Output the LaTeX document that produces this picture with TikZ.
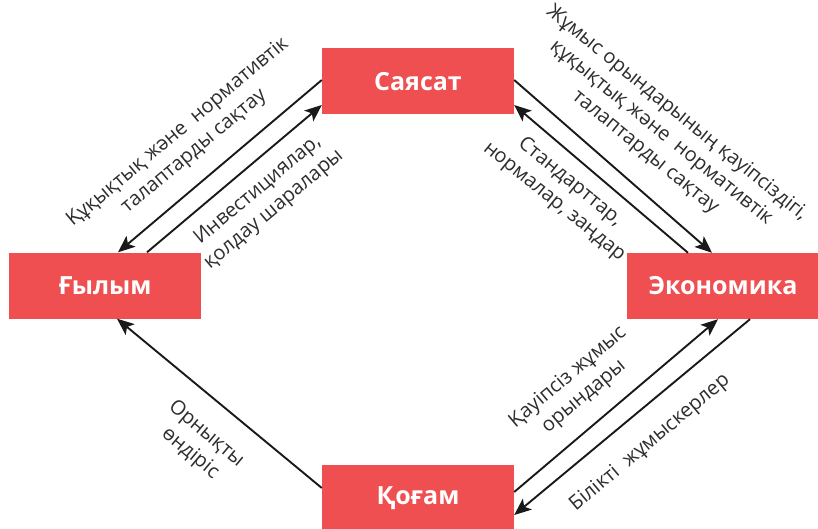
\documentclass[tikz,border=0pt]{standalone}
\usepackage{fontspec}
\setmainfont{Open Sans}
\usetikzlibrary{arrows.meta}
\definecolor{boxred}{RGB}{239,79,81}
\definecolor{txtgray}{RGB}{45,45,45}
\begin{document}
\begin{tikzpicture}[x=1pt,y=-1pt]
\tikzstyle{block}=[fill=boxred,text=white,font=\bfseries\fontsize{25}{30}\selectfont,minimum width=192pt,minimum height=66pt,inner sep=0pt]
\tikzstyle{arr}=[-{Stealth[length=17pt,width=14pt,inset=4pt]},line width=1.9pt,draw=black!90]
\tikzstyle{lbl}=[align=center,font=\fontsize{20}{25}\selectfont,text=txtgray,inner sep=0pt]
\useasboundingbox (0,0) rectangle (818,529);
\node[block] (say) at (418,81.5) {Саясат};
\node[block] (gyl) at (105,285.5) {Ғылым};
\node[block] (eko) at (723,286) {Экономика};
\node[block] (qog) at (418,498) {Қоғам};
\draw[arr] ([yshift=1.5pt]say.west) -- ([xshift=13pt]gyl.north);
\draw[arr] ([xshift=42pt]gyl.north) -- ([yshift=-23.5pt]say.west);
\draw[arr] ([yshift=1.5pt]say.east) -- ([xshift=-11pt]eko.north);
\draw[arr] ([xshift=-35pt]eko.north) -- ([yshift=-23.5pt]say.east);
\draw[arr] ([yshift=6pt]qog.east) -- ([xshift=-5pt]eko.south);
\draw[arr] ([xshift=27pt]eko.south) -- ([yshift=-17pt]qog.east);
\draw[arr] ([yshift=10pt]qog.west) -- ([xshift=12pt]gyl.south);
\node[lbl,rotate=40] (l1) at (186,142) {Құқықтық және~ нормативтік\\талаптарды сақтау};
\node[lbl,rotate=40] (l2) at (266,200) {Инвестициялар,\\қолдау шаралары};
\node[lbl,rotate=-39] (l3) at (661,133) {Жұмыс орындарының қауіпсіздігі,\\құқықтық және~ нормативтік\\талаптарды сақтау};
\node[lbl,rotate=-39] (l4) at (562,192) {Стандарттар,\\нормалар, заңдар};
\node[lbl,rotate=40] (l5) at (576,387) {Қауіпсіз жұмыс\\орындары};
\node[lbl,rotate=40] (l6) at (650,443) {Білікті~ жұмыскерлер};
\node[lbl,rotate=-40] (l7) at (198,444) {Орнықты\\өндіріс};
\end{tikzpicture}
\end{document}
